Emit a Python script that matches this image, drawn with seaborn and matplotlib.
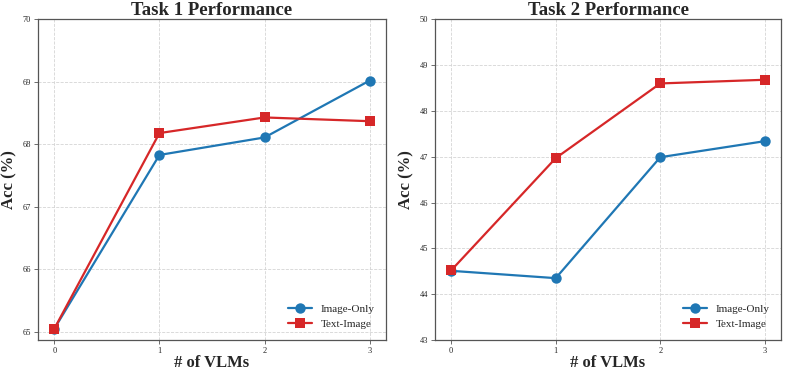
import matplotlib
matplotlib.use("Agg")
import matplotlib.pyplot as plt
import seaborn as sns
import pandas as pd

num_vlms = [0, 1, 2, 3]
task1_image_only = [65.05, 67.83, 68.11, 69.02]
task1_text_image = [65.05, 68.18, 68.43, 68.37]
task2_image_only = [44.51, 44.35, 46.99, 47.34]
task2_text_image = [44.52, 46.97, 48.60, 48.68]
methods = ["Image-Only", "Text-Image"]
titles = ["Task 1 Performance", "Task 2 Performance"]
task1_yticks = [65, 66, 67, 68, 69, 70]
task2_yticks = [43, 44, 45, 46, 47, 48, 49, 50]

sns.set_theme(style="whitegrid")
plt.rcParams["font.family"] = ["Liberation Serif", "DejaVu Serif"]

def make_df(a, b):
    rows = []
    for m, vals in zip(methods, [a, b]):
        for x, v in zip(num_vlms, vals):
            rows.append({"n": x, "acc": v, "method": m})
    return pd.DataFrame(rows)

palette = {"Image-Only": "#1f77b4", "Text-Image": "#d62728"}
markers = {"Image-Only": "o", "Text-Image": "s"}

fig = plt.figure(figsize=(7.89, 3.73), dpi=100)
ax1 = fig.add_axes([38/789, 1-340/373, (386-38)/789, (340-19.3)/373])
ax2 = fig.add_axes([435/789, 1-340/373, (781-435)/789, (340-19.3)/373])

datasets = [(task1_image_only, task1_text_image), (task2_image_only, task2_text_image)]
ylims = [(64.87, 70), (43, 50)]
yticks = [task1_yticks, task2_yticks]

for ax, (a, b), title, yl, yt in zip([ax1, ax2], datasets, titles, ylims, yticks):
    df = make_df(a, b)
    sns.lineplot(data=df, x="n", y="acc", hue="method", style="method",
                 markers=markers, dashes=False, palette=palette,
                 markersize=7.5, linewidth=1.6, markeredgewidth=0, ax=ax)
    ax.set_xlim(-0.155, 3.155)
    ax.set_ylim(*yl)
    ax.set_xticks(num_vlms)
    ax.set_yticks(yt)
    ax.tick_params(axis="both", labelsize=6, length=3, width=0.6, color="#555555",
                   pad=2, bottom=True, left=True)
    ax.grid(True, linestyle="--", linewidth=0.6, color="#d5d5d5")
    for s in ax.spines.values():
        s.set_color("#555555")
        s.set_linewidth(0.9)
    ax.set_title(title, fontsize=13.5, fontweight="bold", pad=3)
    ax.set_xlabel("# of VLMs", fontsize=12, fontweight="bold", labelpad=0)
    ax.set_ylabel("Acc (%)", fontsize=12, fontweight="bold", labelpad=4)
    leg = ax.legend(loc="lower right", fontsize=8, frameon=False,
                    handlelength=2.2, borderaxespad=0.6, labelspacing=0.5)

fig.savefig("out.png", dpi=100)
